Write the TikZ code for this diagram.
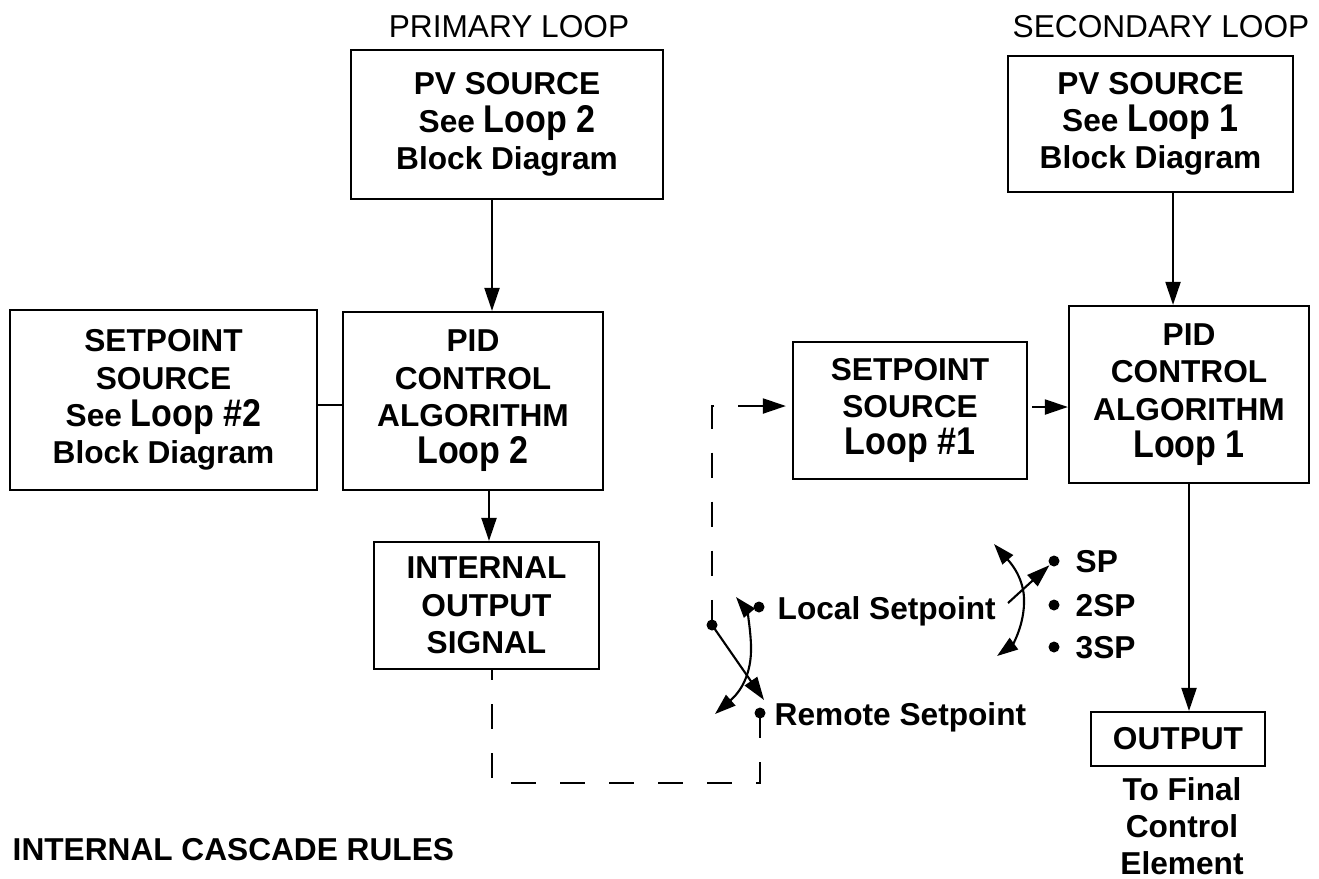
\documentclass[tikz,border=0pt]{standalone}
\usepackage{fontspec}
\setmainfont{Liberation Sans}
\newfontfamily\narrowloop[FakeStretch=0.88]{Liberation Sans}
\usetikzlibrary{arrows.meta}
\newcommand\LoopTxt[1]{{\narrowloop\bfseries\fontsize{11}{12}\selectfont #1}}
\begin{document}
\begin{tikzpicture}[x=0.01cm,y=-0.01cm,
  box/.style={draw, line width=0.6pt, inner sep=0pt, align=center, font=\bfseries\fontsize{9}{10.6}\selectfont},
  lbl/.style={inner sep=0pt, font=\bfseries\fontsize{9}{10.5}\selectfont},
  ttl/.style={inner sep=0pt, font=\fontsize{9}{10.5}\selectfont},
  arr/.style={line width=0.6pt, -{Triangle[length=2.3mm,width=1.5mm]}},
  ln/.style={line width=0.6pt},
  dsh/.style={line width=0.6pt, dash pattern=on 2.5mm off 2.4mm},
  dotn/.style={circle, fill, inner sep=0pt, minimum size=1.1mm},
]
\path[use as bounding box] (0,0) rectangle (1319,878);

% boxes
\node[box, minimum width=31.2mm, minimum height=14.9mm] (pv2) at (507,124.5) {PV SOURCE\\ See \LoopTxt{Loop 2}\\ Block Diagram};
\node[box, minimum width=30.7mm, minimum height=18mm] (sp2) at (163.5,400) {SETPOINT\\ SOURCE\\ See \LoopTxt{Loop \#2}\\ Block Diagram};
\node[box, minimum width=26mm, minimum height=17.8mm] (pid2) at (473,401) {PID\\ CONTROL\\ ALGORITHM\\ \LoopTxt{Loop 2}};
\node[box, minimum width=22.5mm, minimum height=12.7mm] (ios) at (486.5,605.5) {INTERNAL\\ OUTPUT\\ SIGNAL};
\node[box, minimum width=28.5mm, minimum height=13.6mm] (pv1) at (1150.5,124) {PV SOURCE\\ See \LoopTxt{Loop 1}\\ Block Diagram};
\node[box, minimum width=23.4mm, minimum height=13.7mm] (sp1) at (910,410.5) {SETPOINT\\ SOURCE\\ \LoopTxt{Loop \#1}};
\node[box, minimum width=24mm, minimum height=17.7mm] (pid1) at (1189,394.5) {PID\\ CONTROL\\ ALGORITHM\\ \LoopTxt{Loop 1}};
\node[box, minimum width=17.4mm, minimum height=5.4mm] (out) at (1178,739) {OUTPUT};

% titles and labels
\node[ttl] (prim) at (509,27) {PRIMARY LOOP};
\node[ttl] (sec) at (1161,27) {SECONDARY LOOP};
\node[lbl, align=center, anchor=north] (tfc) at (1182,777) {To Final\\ Control\\ Element};
\node[lbl, anchor=base west] (icr) at (12,860) {INTERNAL CASCADE RULES};

% primary connectors
\coordinate (xa) at (492,0);
\coordinate (ya) at (0,405);
\coordinate (xb) at (489,0);
\draw[arr] (pv2.south -| xa) -- (pid2.north -| xa);
\draw[ln] (sp2.east |- ya) -- (pid2.west |- ya);
\draw[arr] (pid2.south -| xb) -- (ios.north -| xb);

% local / remote switch
\node[dotn] (piv) at (712,625) {};
\node[dotn] (ldot) at (759,607) {};
\node[dotn] (rdot) at (760,713) {};
\node[lbl, anchor=base west] (ltxt) at (777,619) {Local Setpoint};
\node[lbl, anchor=base west] (rtxt) at (774,725) {Remote Setpoint};
\coordinate (atip) at (764,700);
\draw[arr] (piv.center) -- (atip);
\draw[ln, {Triangle[length=2.1mm,width=1.4mm]}-{Triangle[length=2.1mm,width=1.4mm]}]
  (715,714) .. controls (740,692) and (752,675) .. (751,645) .. controls (750,622) and (746,609) .. (736,597);

% dashed remote setpoint path
\coordinate (c1) at (760,783);
\coordinate (c2) at (492,783);
\draw[dsh] (rdot.center) -- (c1) -- (c2) -- (ios.south -| c2);
\coordinate (c3) at (712,406);
\draw[dsh, {Triangle[length=2.3mm,width=1.5mm]}-, shorten <=0.6mm] (sp1.west |- c3) -- (c3) -- (piv.center);

% secondary connectors
\coordinate (xd) at (1173,0);
\coordinate (ye) at (0,407);
\coordinate (xc) at (1189,0);
\draw[arr] (pv1.south -| xd) -- (pid1.north -| xd);
\draw[arr] ([xshift=0.4mm]sp1.east |- ye) -- (pid1.west |- ye);
\draw[arr] (pid1.south -| xc) -- (out.north -| xc);

% SP selector
\node[dotn] (d1) at (1054,561) {};
\node[dotn] (d2) at (1054,605) {};
\node[dotn] (d3) at (1054,647) {};
\node[lbl, anchor=base west] (t1) at (1075,572) {SP};
\node[lbl, anchor=base west] (t2) at (1075,616) {2SP};
\node[lbl, anchor=base west] (t3) at (1075,658) {3SP};
\coordinate (b0) at (1008,603);
\draw[arr] (b0) -- (d1);
\draw[ln, {Triangle[length=2.1mm,width=1.4mm]}-{Triangle[length=2.1mm,width=1.4mm]}]
  (994,544) .. controls (1008,560) and (1023,575) .. (1024,598) .. controls (1025,625) and (1012,645) .. (997,656);
\end{tikzpicture}
\end{document}
